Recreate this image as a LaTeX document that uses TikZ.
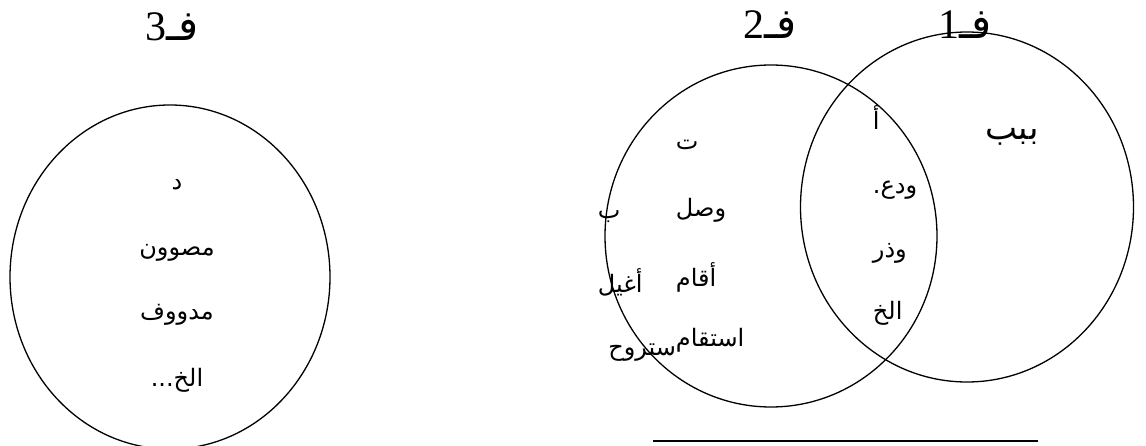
\documentclass[tikz,border=0pt]{standalone}
\usepackage{fontspec}
\usetikzlibrary{shapes.geometric}
\TeXXeTstate=1
\newfontfamily\arabicfont[Script=Arabic]{DejaVu Sans}
\newfontfamily\numfont{Liberation Serif}
\tikzset{
  setring/.style={ellipse, draw, line width=1.3pt, inner sep=0pt},
  setlabel/.style={inner sep=0.75pt, font=\fontsize{42}{44}\selectfont},
  word/.style={inner sep=0.75pt, font=\arabicfont\fontsize{24}{26}\selectfont}
}
\begin{document}
\begin{tikzpicture}[x=1pt,y=1pt,yscale=-1,xscale=1]
\useasboundingbox (0,0) rectangle (1146,446);
%Shape: Ellipse [set 3]
\node [setring, minimum width=320, minimum height=344] (ring3) at (170,277) {};
%Shape: Ellipse [set 2]
\node [setring, minimum width=332, minimum height=342] (ring2) at (771,236) {};
%Shape: Ellipse [set 1]
\node [setring, minimum width=333, minimum height=350] (ring1) at (967,207) {};
%Straight Lines [base]
\coordinate (baseL) at (653,441);
\coordinate (baseR) at (1038,441);
\draw [line width=1.8pt] (baseL) -- (baseR);

% Text Node
\node [setlabel] (lab3) at (172,27) {\beginR{\arabicfont ف\char"0640}{\numfont 3}\endR};
% Text Node
\node [setlabel] (lab2) at (770,25) {\beginR{\arabicfont ف\char"0640}{\numfont 2}\endR};
% Text Node
\node [setlabel] (lab1) at (965,25) {\beginR{\arabicfont ف\char"0640}{\numfont 1}\endR};

% Text Node
\node [word] (w3a) at (177,185) {\beginR د\endR};
% Text Node
\node [word] (w3b) at (177,253) {\beginR مصوون\endR};
% Text Node
\node [word] (w3c) at (177,315) {\beginR مدووف\endR};
% Text Node
\node [word] (w3d) at (177,380) {\beginR الخ...\endR};

% Text Node
\node [word, anchor=west] (w2a) at (675,145) {\beginR ت\endR};
% Text Node
\node [word, anchor=west] (w2b) at (675,210) {\beginR وصل\endR};
% Text Node
\node [word, anchor=west] (w2c) at (675,277) {\beginR أقام\endR};
% Text Node
\node [word, anchor=west] (w2d) at (675,340) {\beginR استقام\endR};
% Text Node
\node [word, anchor=west] (w2e) at (597,217) {\beginR ب\endR};
% Text Node
\node [word, anchor=west] (w2f) at (597,282) {\beginR أغيل\endR};
% Text Node
\node [word, anchor=east] (w2g) at (677,353) {\beginR ستروح\endR};

% Text Node
\node [word, anchor=west] (w1a) at (872,118) {\beginR أ\endR};
% Text Node
\node [word, anchor=west] (w1b) at (872,190) {\beginR ودع.\endR};
% Text Node
\node [word, anchor=west] (w1c) at (872,253) {\beginR وذر\endR};
% Text Node
\node [word, anchor=west] (w1d) at (872,313) {\beginR الخ\endR};
% Text Node
\node [word, font=\arabicfont\fontsize{34}{36}\selectfont] (w1e) at (1012,137) {\beginR ببب\endR};
\end{tikzpicture}
\end{document}
